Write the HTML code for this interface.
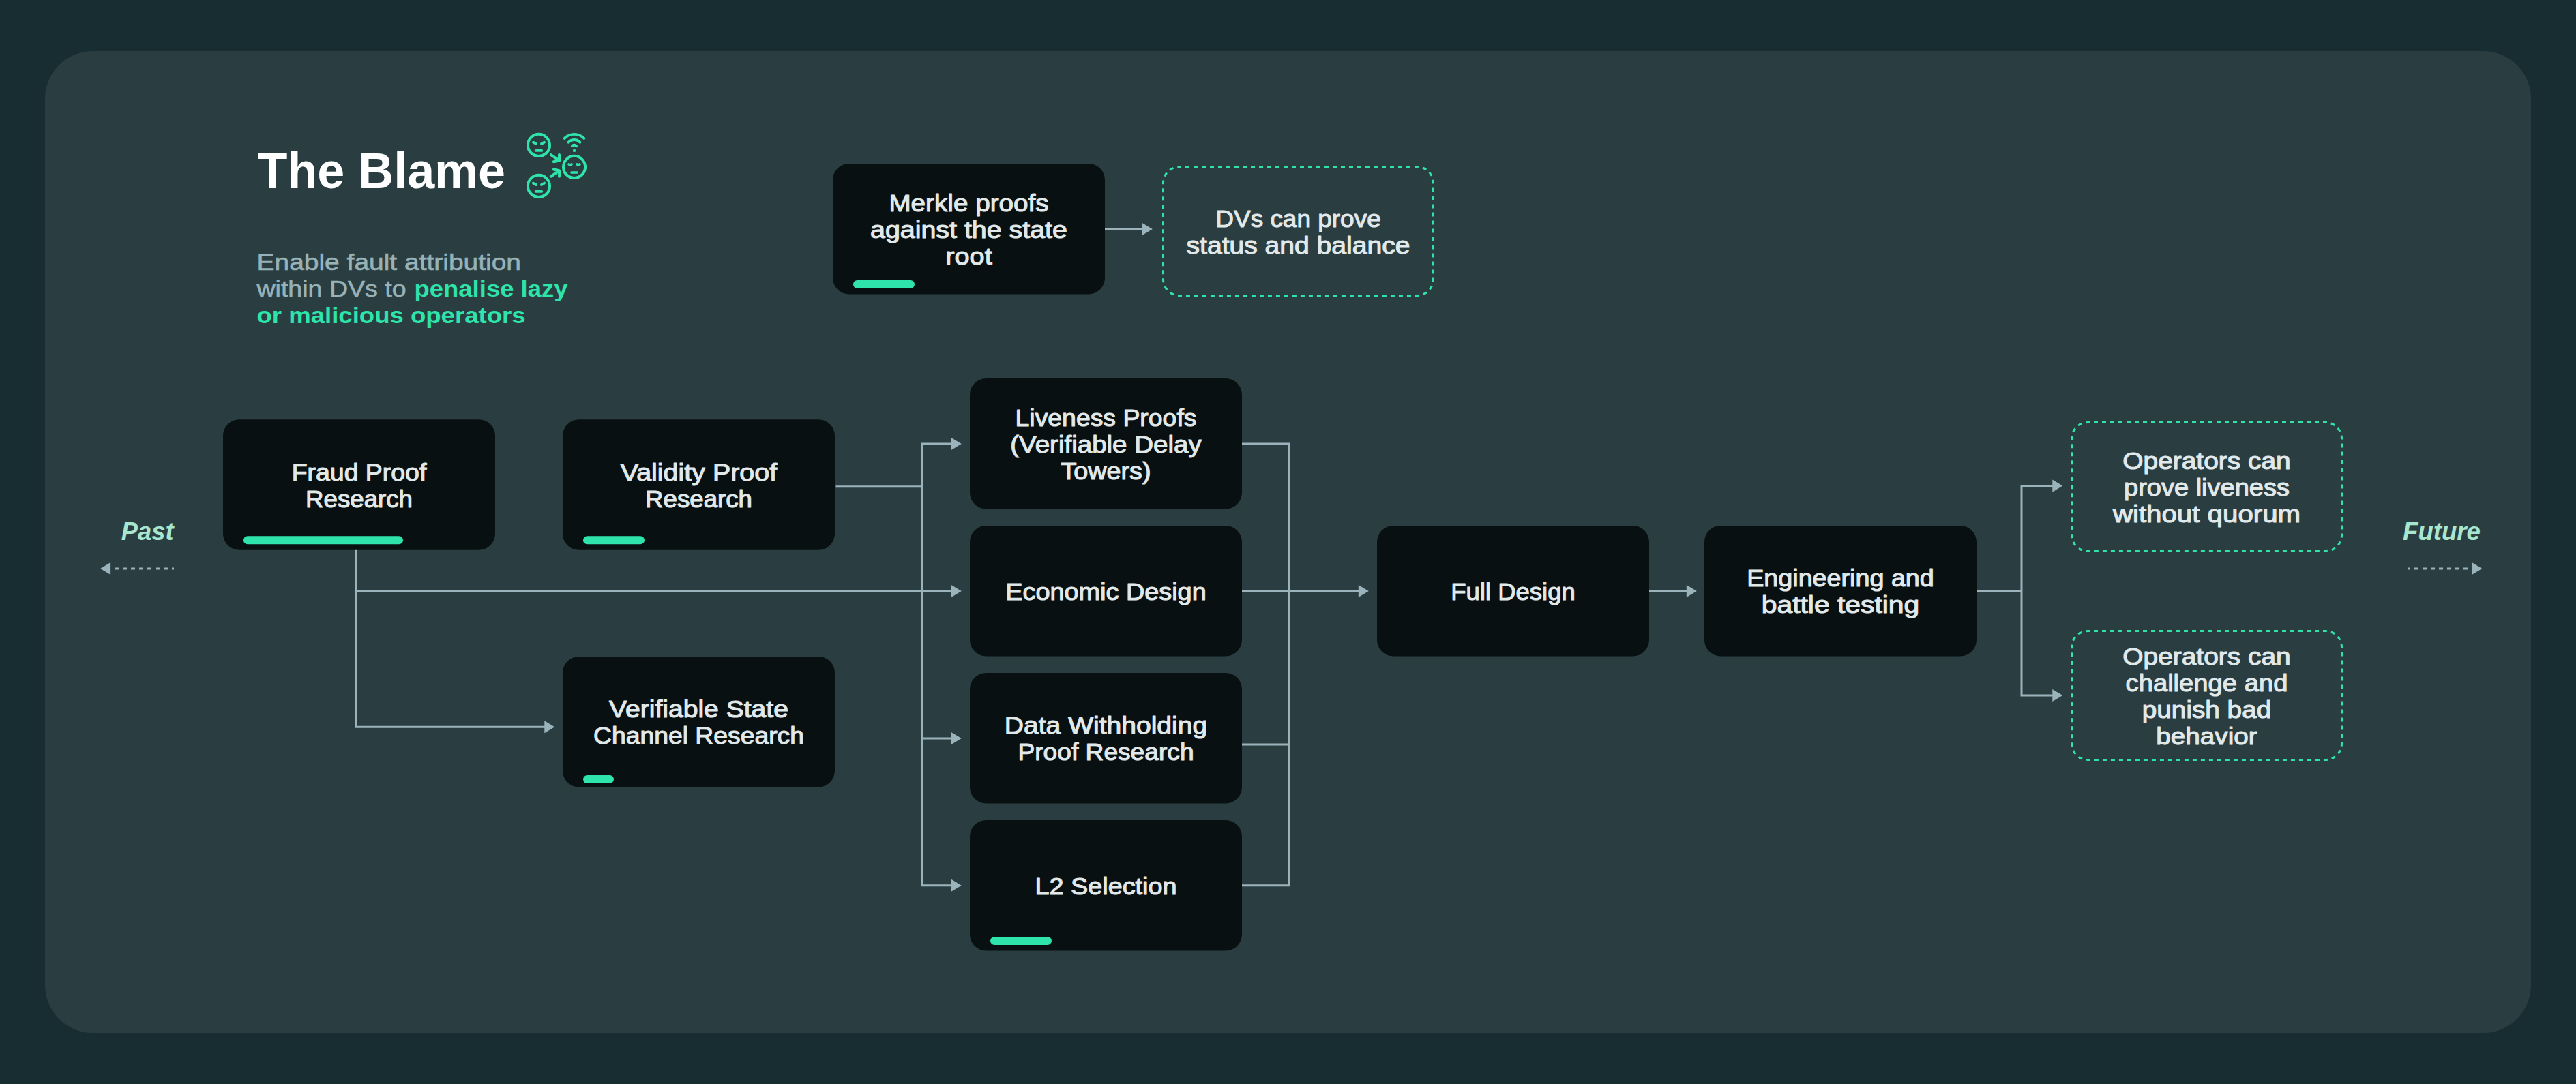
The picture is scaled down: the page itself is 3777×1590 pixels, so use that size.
<!DOCTYPE html>
<html lang="en"><head><meta charset="utf-8"><title>The Blame</title>
<style>
html,body{margin:0;padding:0;background:#182d32;}
body{width:3777px;height:1590px;overflow:hidden;position:relative;font-family:"Liberation Sans",sans-serif;}
svg{position:absolute;left:0;top:0;display:block;}
text{font-family:"Liberation Sans",sans-serif;}
.b{fill:#091011;}
.d{fill:none;stroke:#2fe4ab;stroke-width:3;stroke-dasharray:6 6;stroke-dashoffset:3.5;}
.p{fill:#2fe4ab;}
.l{fill:none;stroke:#9bb4bb;stroke-width:3;}
.a{fill:#9bb4bb;}
.t{fill:#e1e9eb;font-size:35.4px;text-anchor:middle;stroke:#e1e9eb;stroke-width:1.1px;stroke-linejoin:round;}
.ic{fill:none;stroke:#2fe4ab;stroke-linecap:round;stroke-linejoin:round;}
</style></head><body>
<svg width="3777" height="1590" viewBox="0 0 3777 1590">
<rect x="66" y="75" width="3645" height="1440" rx="70" ry="70" fill="#2a3e42"/>
<text x="377.5" y="276.3" font-size="74" font-weight="700" fill="#ffffff" textLength="363.5" lengthAdjust="spacingAndGlyphs">The Blame</text>
<g font-size="34" fill="#97b2b8" stroke="#97b2b8" stroke-width="0.6">
<text x="376.5" y="395.5" textLength="387.5" lengthAdjust="spacingAndGlyphs">Enable fault attribution</text>
<text x="376.5" y="434.5" textLength="219" lengthAdjust="spacingAndGlyphs">within DVs to</text>
<text x="607.5" y="434.5" font-weight="700" fill="#2fe4ab" stroke="none" textLength="225" lengthAdjust="spacingAndGlyphs">penalise lazy</text>
<text x="376.5" y="473.5" font-weight="700" fill="#2fe4ab" stroke="none" textLength="394" lengthAdjust="spacingAndGlyphs">or malicious operators</text>
</g>
<g class="ic" transform="translate(764,188) scale(0.09963)" stroke-width="40">
<circle cx="261" cy="250" r="161"/>
<path d="M179 207L222 231M343 207L300 231M218 330L304 330" stroke-width="38"/>
<circle cx="261" cy="852" r="161"/>
<path d="M179 809L222 833M343 809L300 833M218 932L304 932" stroke-width="38"/>
<circle cx="783" cy="571" r="161"/>
<path d="M702 530Q723 554 744 530M822 530Q843 554 864 530M742 653L824 653" stroke-width="36"/>
<path d="M440 392L562 476M480 494L563 478L562 392M440 710L562 626M480 608L563 624L562 710"/>
<path d="M639.5 148.5A203 203 0 0 1 926.5 148.5M699.0 207.4A113 113 0 0 1 867.0 207.4M752.4 263.3A40 40 0 0 1 813.6 263.3"/>
<circle cx="783" cy="330" r="22" fill="#2fe4ab" stroke="none"/>
</g>
<g class="l">
<path d="M522 806V1066.25H800"/>
<path d="M522 867H1397"/>
<path d="M1225.5 713.75H1351.5"/>
<path d="M1397 651H1351.5V1298.75H1397"/>
<path d="M1351.5 1083H1397"/>
<path d="M1821 651H1889.75V1298.75H1821"/>
<path d="M1821 867H1994"/>
<path d="M1821 1092H1889.75"/>
<path d="M2418 867H2475"/>
<path d="M2898 867H2964"/>
<path d="M3011 712.6H2964V1020H3011"/>
<path d="M1620 336H1677"/>
<path d="M168 834H255" stroke-dasharray="6 6"/>
<path d="M3618 834H3531" stroke-dasharray="6 6"/>
</g>
<path class="a" d="M813.3 1066.25l-15 -9.1v18.2zM1409.8 867l-15 -9.1v18.2zM1409.8 651l-15 -9.1v18.2zM1409.8 1083l-15 -9.1v18.2zM1409.8 1298.75l-15 -9.1v18.2zM2006.8 867l-15 -9.1v18.2zM2487.8 867l-15 -9.1v18.2zM3024.3 712.6l-15 -9.1v18.2zM3024.3 1020l-15 -9.1v18.2zM1689.8 336l-15 -9.1v18.2zM3639.3 834l-15 -9.1v18.2z"/>
<path class="a" d="M147.1 834l15 -9.1v18.2z"/>
<rect class="b" x="1221" y="240" width="399" height="191.5" rx="24"/>
<rect class="p" x="1251" y="411" width="90" height="12" rx="6"/>
<text class="t" x="1420.5" y="309.95" textLength="234.15" lengthAdjust="spacingAndGlyphs">Merkle proofs</text>
<text class="t" x="1420.5" y="348.95" textLength="288.9" lengthAdjust="spacingAndGlyphs">against the state</text>
<text class="t" x="1420.5" y="387.95" textLength="68.4" lengthAdjust="spacingAndGlyphs">root</text>
<rect class="b" x="327" y="615.25" width="399" height="191.5" rx="24"/>
<rect class="p" x="357" y="786.25" width="234" height="12" rx="6"/>
<text class="t" x="526.5" y="704.70" textLength="197.65" lengthAdjust="spacingAndGlyphs">Fraud Proof</text>
<text class="t" x="526.5" y="743.70" textLength="156.9" lengthAdjust="spacingAndGlyphs">Research</text>
<rect class="b" x="825" y="615.25" width="399" height="191.5" rx="24"/>
<rect class="p" x="855" y="786.25" width="90" height="12" rx="6"/>
<text class="t" x="1024.5" y="704.70" textLength="229.4" lengthAdjust="spacingAndGlyphs">Validity Proof</text>
<text class="t" x="1024.5" y="743.70" textLength="156.9" lengthAdjust="spacingAndGlyphs">Research</text>
<rect class="b" x="825" y="963" width="399" height="191.5" rx="24"/>
<rect class="p" x="855" y="1137" width="45" height="12" rx="6"/>
<text class="t" x="1024.5" y="1052.45" textLength="262.9" lengthAdjust="spacingAndGlyphs">Verifiable State</text>
<text class="t" x="1024.5" y="1091.45" textLength="308.9" lengthAdjust="spacingAndGlyphs">Channel Research</text>
<rect class="b" x="1422" y="555" width="399" height="191.5" rx="24"/>
<text class="t" x="1621.5" y="624.95" textLength="265.9" lengthAdjust="spacingAndGlyphs">Liveness Proofs</text>
<text class="t" x="1621.5" y="663.95" textLength="280.4" lengthAdjust="spacingAndGlyphs">(Verifiable Delay</text>
<text class="t" x="1621.5" y="702.95" textLength="132.15" lengthAdjust="spacingAndGlyphs">Towers)</text>
<rect class="b" x="1422" y="771" width="399" height="191.5" rx="24"/>
<text class="t" x="1621.5" y="879.95" textLength="294.4" lengthAdjust="spacingAndGlyphs">Economic Design</text>
<rect class="b" x="1422" y="987" width="399" height="191.5" rx="24"/>
<text class="t" x="1621.5" y="1076.45" textLength="297.4" lengthAdjust="spacingAndGlyphs">Data Withholding</text>
<text class="t" x="1621.5" y="1115.45" textLength="258.15" lengthAdjust="spacingAndGlyphs">Proof Research</text>
<rect class="b" x="1422" y="1203" width="399" height="191.5" rx="24"/>
<rect class="p" x="1452" y="1374" width="90" height="12" rx="6"/>
<text class="t" x="1621.5" y="1311.95" textLength="208.15" lengthAdjust="spacingAndGlyphs">L2 Selection</text>
<rect class="b" x="2019" y="771" width="399" height="191.5" rx="24"/>
<text class="t" x="2218.5" y="879.95" textLength="182.4" lengthAdjust="spacingAndGlyphs">Full Design</text>
<rect class="b" x="2499" y="771" width="399" height="191.5" rx="24"/>
<text class="t" x="2698.5" y="860.45" textLength="274.65" lengthAdjust="spacingAndGlyphs">Engineering and</text>
<text class="t" x="2698.5" y="899.45" textLength="231.4" lengthAdjust="spacingAndGlyphs">battle testing</text>
<rect class="d" x="1705.5" y="244.5" width="396" height="189" rx="24"/>
<text class="t" x="1903.5" y="332.70" textLength="242.4" lengthAdjust="spacingAndGlyphs">DVs can prove</text>
<text class="t" x="1903.5" y="371.70" textLength="327.9" lengthAdjust="spacingAndGlyphs">status and balance</text>
<rect class="d" x="3037.5" y="619.5" width="396" height="189" rx="24"/>
<text class="t" x="3235.5" y="688.20" textLength="246.4" lengthAdjust="spacingAndGlyphs">Operators can</text>
<text class="t" x="3235.5" y="727.20" textLength="242.9" lengthAdjust="spacingAndGlyphs">prove liveness</text>
<text class="t" x="3235.5" y="766.20" textLength="275.15" lengthAdjust="spacingAndGlyphs">without quorum</text>
<rect class="d" x="3037.5" y="925.5" width="396" height="189" rx="24"/>
<text class="t" x="3235.5" y="974.70" textLength="246.4" lengthAdjust="spacingAndGlyphs">Operators can</text>
<text class="t" x="3235.5" y="1013.70" textLength="237.9" lengthAdjust="spacingAndGlyphs">challenge and</text>
<text class="t" x="3235.5" y="1052.70" textLength="189.4" lengthAdjust="spacingAndGlyphs">punish bad</text>
<text class="t" x="3235.5" y="1091.70" textLength="148.4" lengthAdjust="spacingAndGlyphs">behavior</text>
<g font-size="36.6" font-weight="700" font-style="italic" fill="#a8e6d0">
<text x="177.8" y="792" textLength="76.8" lengthAdjust="spacingAndGlyphs">Past</text>
<text x="3523" y="792" textLength="114" lengthAdjust="spacingAndGlyphs">Future</text>
</g>
</svg></body></html>
